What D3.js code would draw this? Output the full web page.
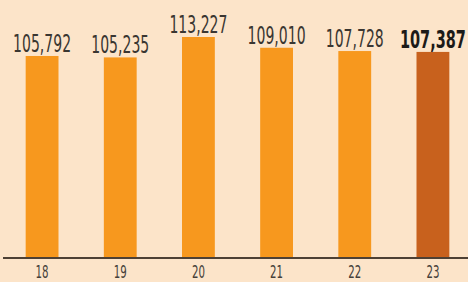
<!DOCTYPE html>
<html>
<head>
<meta charset="utf-8">
<script src="https://cdn.jsdelivr.net/npm/d3@7"></script>
<style>
  html, body { margin: 0; padding: 0; background: #fce4c9; }
  svg { display: block; }
</style>
</head>
<body>
<svg width="468" height="282"></svg>
<script>
// values
var years = ["18", "19", "20", "21", "22", "23"];
var totals = [105792, 105235, 113227, 109010, 107728, 107387];

var svg = d3.select("svg"),
    width = +svg.attr("width"),
    height = +svg.attr("height");

var baseY = 258;
var font = "'Liberation Sans Narrow', 'DejaVu Sans Condensed', sans-serif";

var x = d3.scaleBand()
    .domain(years)
    .range([3, 472])
    .paddingInner(0.58)
    .paddingOuter(0.29);

// axis doesn't start at zero in the original
var y = d3.scaleLinear()
    .domain([26700, 113227])
    .range([baseY, 37]);

var fmt = d3.format(",");

// squeeze a text horizontally to a given width (condensed look)
function squeeze(sel, w, cx, cy) {
  sel.each(function(d, i) {
    var t = d3.select(this);
    var natural = this.getComputedTextLength();
    var sx = w(d, i) / natural;
    t.attr("transform", "translate(" + cx(d, i) + "," + cy(d, i) + ") scale(" + sx + ",1)");
  });
}

svg.append("rect")
    .attr("width", width)
    .attr("height", height)
    .attr("fill", "#fce4c9");

svg.append("g")
  .selectAll("rect")
  .data(totals)
  .enter().append("rect")
    .attr("x", function(d, i) { return x(years[i]); })
    .attr("y", function(d) { return y(d); })
    .attr("width", x.bandwidth())
    .attr("height", function(d) { return baseY - y(d); })
    .attr("fill", function(d, i) { return i == totals.length - 1 ? "#c8611d" : "#f7981e"; });

svg.append("g")
  .selectAll("text")
  .data(totals)
  .enter().append("text")
    .attr("text-anchor", "middle")
    .attr("font-family", font)
    .attr("font-size", 24)
    .attr("font-weight", function(d, i) { return i == totals.length - 1 ? "bold" : "normal"; })
    .attr("fill", function(d, i) { return i == totals.length - 1 ? "#1c1a18" : "#3a3631"; })
    .text(function(d) { return fmt(d); })
    .call(squeeze,
      function(d, i) { return i == totals.length - 1 ? 66 : 58; },
      function(d, i) { return x(years[i]) + x.bandwidth() / 2; },
      function(d) { return y(d) - 4; });

// x axis
var xAxis = d3.axisBottom(x).tickSize(0).tickPadding(11);
var gx = svg.append("g")
    .attr("transform", "translate(0," + baseY + ")")
    .call(xAxis);
gx.select(".domain")
    .attr("d", "M3,0H468")
    .attr("stroke", "#4d4034")
    .attr("stroke-width", 2);
gx.selectAll(".tick text")
    .attr("font-family", font)
    .attr("font-size", 17)
    .attr("fill", "#45403a")
    .attr("y", null)
    .attr("dy", null)
    .call(squeeze,
      function() { return 13; },
      function() { return 0; },
      function() { return 20; });
</script>
</body>
</html>
